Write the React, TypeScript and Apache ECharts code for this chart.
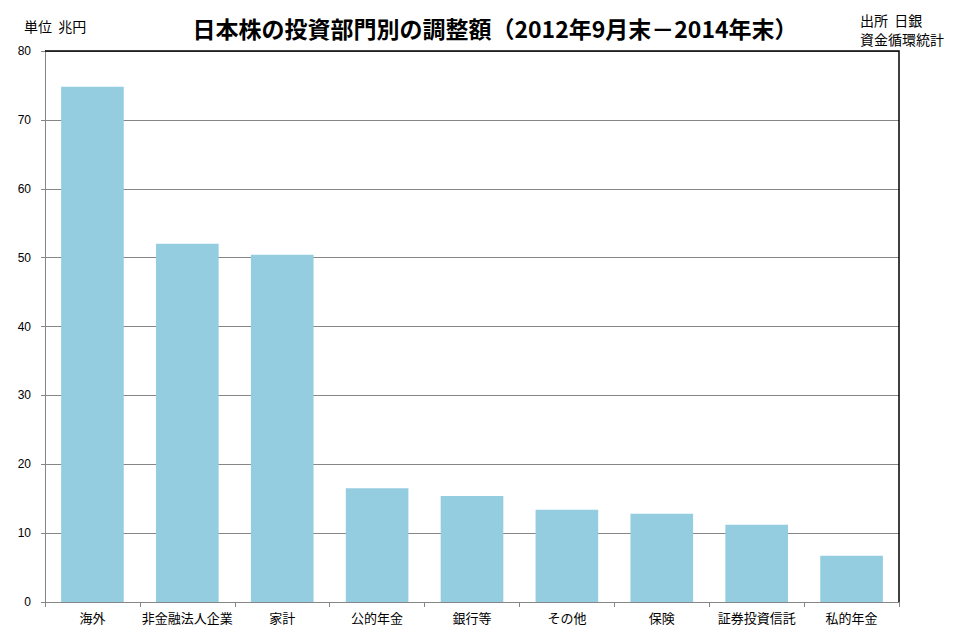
import React, { useEffect, useRef } from "react";
import * as echarts from "echarts";

const categories = ["海外", "非金融法人企業", "家計", "公的年金", "銀行等", "その他", "保険", "証券投資信託", "私的年金"];
const values = [74.8, 52.0, 50.4, 16.5, 15.4, 13.4, 12.8, 11.2, 6.7];
const yTicks = [0, 10, 20, 30, 40, 50, 60, 70, 80];

const titleText = "日本株の投資部門別の調整額（2012年9月末－2014年末）";
const unitText = "単位  兆円";
const sourceText = "出所  日銀\n資金循環統計";

const FONT = "'Noto Sans CJK JP', 'Noto Sans', sans-serif";

export default function App() {
  const ref = useRef<HTMLDivElement>(null);
  useEffect(() => {
    if (!ref.current) return;
    const chart = echarts.init(ref.current, null, { renderer: "svg" });
    chart.setOption({
      animation: false,
      backgroundColor: "#ffffff",
      textStyle: { fontFamily: FONT },
      title: {
        text: titleText,
        left: 490,
        textAlign: "center",
        top: 11,
        textStyle: { fontFamily: FONT, fontSize: 23, fontWeight: "bold", color: "#000" },
      },
      graphic: [
        {
          type: "text",
          left: 24,
          top: 19,
          style: { text: unitText, fontFamily: FONT, fontSize: 14, fill: "#000" },
        },
        {
          type: "text",
          left: 860,
          top: 10,
          style: { text: sourceText, fontFamily: FONT, fontSize: 14, lineHeight: 19, fill: "#000" },
        },
        {
          type: "polyline",
          shape: { points: [[45, 51], [899, 51], [899, 602]] },
          style: { stroke: "#000", lineWidth: 1.5, fill: null },
          z: 10,
        },
      ],
      grid: { left: 45, right: 80, top: 51, bottom: 39, containLabel: false },
      xAxis: {
        type: "category",
        data: categories,
        axisLine: { lineStyle: { color: "#868686", width: 1 } },
        axisTick: { show: true, alignWithLabel: false, length: 5, lineStyle: { color: "#868686" } },
        axisLabel: { color: "#000", fontSize: 13, margin: 9, fontFamily: FONT, interval: 0 },
      },
      yAxis: {
        type: "value",
        min: yTicks[0],
        max: yTicks[yTicks.length - 1],
        interval: 10,
        axisLine: { show: true, lineStyle: { color: "#868686", width: 1 } },
        axisTick: { show: true, length: 4, lineStyle: { color: "#868686" } },
        axisLabel: { color: "#000", fontSize: 12, margin: 14, fontFamily: "'Liberation Sans', sans-serif" },
        splitLine: { show: true, lineStyle: { color: "#868686", width: 1 } },
      },
      series: [
        {
          type: "bar",
          data: values,
          barCategoryGap: "34%",
          itemStyle: { color: "#94cde0" },
        },
      ],
    });
    return () => chart.dispose();
  }, []);
  return <div ref={ref} style={{ width: 979, height: 641, position: "absolute", left: 0, top: 0 }} />;
}
